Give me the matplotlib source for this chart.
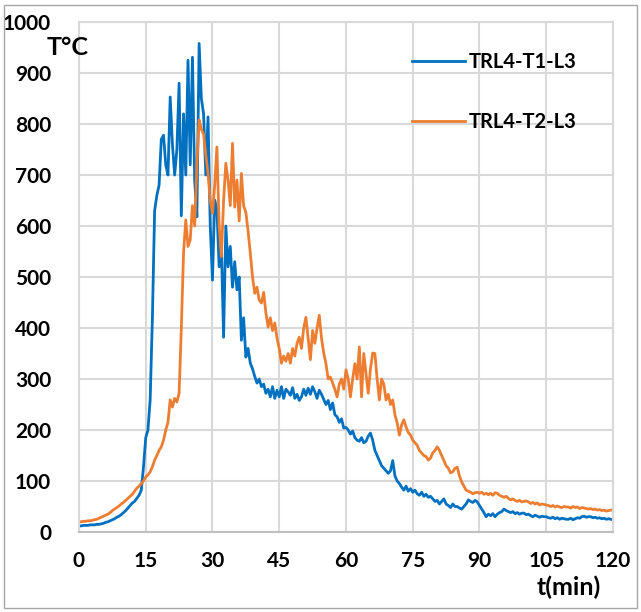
import numpy as np
import matplotlib
matplotlib.use('Agg')
import matplotlib.pyplot as plt
from matplotlib.patches import Rectangle

plt.rcParams['font.family'] = ['Lato', 'DejaVu Sans']

# time axis (min), one sample every 0.5 min
t = np.arange(0, 120.5, 0.5)

# TRL4-T1-L3 (blue)
t1 = [12, 12, 13, 13, 13, 14, 14, 14, 15, 15,
      16, 17, 19, 20, 22, 24, 26, 29, 31, 34,
      38, 42, 47, 52, 57, 60, 66, 72, 82, 128,
      185, 200, 260, 420, 630, 660, 680, 770, 778, 720,
      700, 853, 760, 700, 750, 880, 620, 820, 700, 925,
      720, 931, 690, 618, 958, 850, 820, 700, 814, 600,
      494, 651, 631, 520, 560, 382, 600, 520, 560, 480,
      530, 475, 500, 376, 420, 343, 360, 331, 320, 305,
      292, 300, 285, 290, 272, 280, 265, 285, 262, 278,
      265, 285, 262, 280, 275, 268, 283, 262, 270, 258,
      265, 280, 268, 282, 270, 285, 275, 262, 278, 270,
      260, 250, 258, 240, 253, 230, 226, 215, 222, 204,
      205, 200, 192, 198, 185, 180, 178, 185, 175, 178,
      188, 194, 180, 160, 150, 140, 130, 125, 120, 115,
      120, 140, 110, 100, 95, 88, 82, 90, 80, 85,
      78, 82, 75, 72, 78, 70, 74, 68, 70, 65,
      60, 62, 55, 60, 65, 55, 52, 48, 55, 50,
      50, 47, 45, 50, 55, 63, 60, 58, 62, 59,
      52, 45, 38, 30, 35, 32, 36, 30, 35, 38,
      40, 45, 42, 40, 38, 40, 36, 38, 35, 37,
      37, 34, 35, 32, 30, 33, 31, 29, 31, 30,
      30, 28, 27, 29, 26, 28, 25, 27, 26, 25,
      25, 27, 24, 26, 28, 27, 30, 31, 29, 30,
      30, 28, 29, 27, 28, 26, 27, 25, 26, 25,
      24]

# TRL4-T2-L3 (orange)
t2 = [20, 20, 21, 21, 22, 22, 23, 24, 25, 27,
      29, 31, 33, 35, 38, 42, 45, 48, 51, 55,
      58, 62, 66, 70, 74, 80, 86, 90, 95, 100,
      108, 112, 118, 128, 141, 150, 160, 167, 180, 200,
      215, 259, 245, 262, 255, 272, 400, 547, 612, 560,
      573, 640, 600, 720, 808, 790, 780, 740, 703, 650,
      625, 680, 755, 600, 540, 650, 723, 690, 640, 762,
      637, 690, 610, 703, 640, 627, 590, 547, 500, 468,
      480, 455, 449, 470, 430, 402, 420, 395, 410, 380,
      360, 331, 345, 335, 350, 331, 360, 345, 370, 382,
      360, 400, 421, 380, 338, 395, 370, 400, 425, 380,
      351, 330, 300, 304, 292, 280, 265, 290, 300, 280,
      318, 300, 265, 300, 330, 300, 363, 265, 350, 310,
      272, 320, 351, 350, 300, 259, 300, 290, 259, 270,
      250, 259, 230, 214, 190, 210, 220, 206, 195, 190,
      180, 175, 170, 160, 155, 150, 148, 141, 145, 155,
      160, 167, 160, 150, 140, 130, 125, 116, 118, 125,
      127, 110, 98, 90, 82, 80, 78, 75, 77, 78,
      76, 78, 74, 76, 73, 76, 72, 77, 76, 72,
      70, 68, 70, 66, 63, 65, 62, 60, 62, 59,
      60, 61, 59, 56, 58, 55, 57, 53, 55, 54,
      53, 52, 50, 52, 49, 51, 49, 48, 50, 49,
      49, 47, 50, 48, 49, 46, 48, 47, 46, 45,
      46, 44, 45, 43, 44, 42, 43, 41, 42, 43,
      43]

x_ticks = [0, 15, 30, 45, 60, 75, 90, 105, 120]
y_ticks = [0, 100, 200, 300, 400, 500, 600, 700, 800, 900, 1000]

fig = plt.figure(figsize=(6.41, 6.12), dpi=100)
fig.patch.set_facecolor('white')
fig.patches.append(Rectangle((0.006, 0.006), 0.988, 0.986, transform=fig.transFigure,
                             fill=False, edgecolor='#a6a6a6', linewidth=1))

ax = fig.add_axes([0.1232, 0.1307, 0.8331, 0.8333])
ax.plot(t, t1, color='#0070C0', linewidth=2, label='TRL4-T1-L3')
ax.plot(t, t2, color='#ED7D31', linewidth=2, label='TRL4-T2-L3')

ax.set_xlim(0, 120)
ax.set_ylim(0, 1000)
ax.set_xticks(x_ticks)
ax.set_yticks(y_ticks)
ax.grid(True, color='#d9d9d9', linewidth=1.5)
ax.set_axisbelow(True)
for s in ax.spines.values():
    s.set_color('#d9d9d9')
    s.set_linewidth(1.5)
ax.spines['bottom'].set_color('#bfbfbf')
ax.tick_params(length=0, labelsize=15)
ax.tick_params(axis='y', pad=20)
ax.tick_params(axis='x', pad=14)
for lab in ax.get_xticklabels() + ax.get_yticklabels():
    lab.set_fontweight('bold')

leg = ax.legend(loc='upper left', bbox_to_anchor=(0.609, 0.957), frameon=False,
                fontsize=14.5, labelspacing=2.0, handlelength=2.6, handletextpad=0.2,
                borderaxespad=0)
for txt in leg.get_texts():
    txt.set_fontweight('bold')
for h in leg.get_lines():
    h.set_linewidth(2)

fig.text(0.073, 0.923, 'T°C', fontsize=18, fontweight='bold', va='center', ha='left')
fig.text(0.888, 0.040, 't(min)', fontsize=18, fontweight='bold', va='center', ha='center')

fig.savefig('out.png', dpi=100, facecolor='white')
plt.close(fig)
